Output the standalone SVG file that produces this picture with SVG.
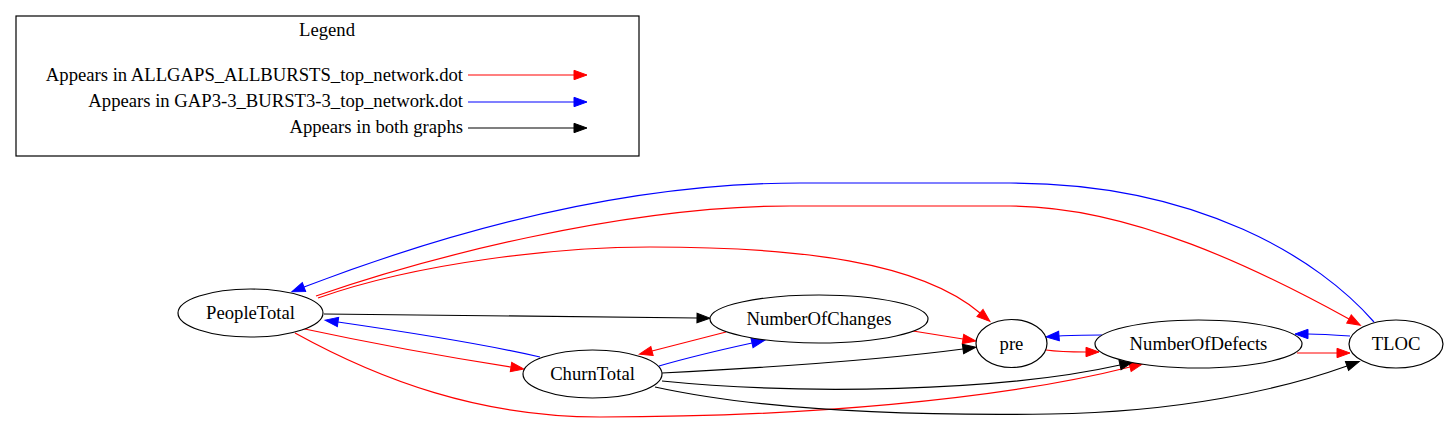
<svg xmlns="http://www.w3.org/2000/svg" width="1448" height="424" viewBox="0 0 1448 424">
<style>
text{font-family:"Liberation Serif","Times New Roman",serif;font-size:18.67px;fill:#000}
.node ellipse{fill:#fff;stroke:#000;stroke-width:1.2}
.e{fill:none;stroke-width:1.2}
.r{stroke:#f00;marker-end:url(#ar)}
.b{stroke:#00f;marker-end:url(#ab)}
.k{stroke:#000;marker-end:url(#ak)}
</style>
<defs>
<marker id="ar" markerUnits="userSpaceOnUse" orient="auto" refX="0" refY="0" markerWidth="16" markerHeight="12" viewBox="0 -6 16 12" overflow="visible"><path d="M0,-4.7 L13,0 L0,4.7 z" fill="#f00" stroke="#f00"/></marker>
<marker id="ab" markerUnits="userSpaceOnUse" orient="auto" refX="0" refY="0" markerWidth="16" markerHeight="12" viewBox="0 -6 16 12" overflow="visible"><path d="M0,-4.7 L13,0 L0,4.7 z" fill="#00f" stroke="#00f"/></marker>
<marker id="ak" markerUnits="userSpaceOnUse" orient="auto" refX="0" refY="0" markerWidth="16" markerHeight="12" viewBox="0 -6 16 12" overflow="visible"><path d="M0,-4.7 L13,0 L0,4.7 z" fill="#000" stroke="#000"/></marker>
</defs>
<rect width="1448" height="424" fill="#fff"/>
<g id="legend">
<rect x="16" y="16" width="623" height="140" fill="none" stroke="#000" stroke-width="1.2"/>
<text x="327" y="36" text-anchor="middle">Legend</text>
<text x="463" y="81" text-anchor="end">Appears in ALLGAPS_ALLBURSTS_top_network.dot</text>
<text x="463" y="107" text-anchor="end">Appears in GAP3-3_BURST3-3_top_network.dot</text>
<text x="463" y="133" text-anchor="end">Appears in both graphs</text>
<path class="e r" d="M468,75 L574,75"/>
<path class="e b" d="M468,102 L574,102"/>
<path class="e k" d="M468,128 L574,128"/>
</g>
<g id="edges">
<path class="e b" d="M1374,322 C1320,260 1200,183 1010,183 L800,183 C620,183 440,235 304,287"/>
<path class="e r" d="M316,296 C420,260 620,206 790,206 L1010,206 C1130,206 1260,270 1349,319"/>
<path class="e r" d="M318,298 C420,262 560,247 650,247 C800,247 920,262 980,313"/>
<path class="e r" d="M300,328 C370,343 440,356 511,367"/>
<path class="e b" d="M540,357 C480,343 400,331 338,322"/>
<path class="e k" d="M324,314 L697,318"/>
<path class="e r" d="M295,333 C380,380 480,417 600,417 C800,417 1000,400 1130,367"/>
<path class="e r" d="M726,332 L652,351"/>
<path class="e b" d="M659,366 C690,357 720,350 752,343"/>
<path class="e r" d="M913,331 L963,339"/>
<path class="e k" d="M662,373 C760,368 880,360 963,349"/>
<path class="e k" d="M662,381 C800,395 1000,392 1120,365"/>
<path class="e k" d="M655,387 C760,410 900,416 1050,414 C1180,412 1280,390 1347,366"/>
<path class="e r" d="M1046,350 C1060,352 1072,352 1086,352"/>
<path class="e b" d="M1102,335 C1090,335 1072,335 1059,336"/>
<path class="e r" d="M1297,353 L1337,353"/>
<path class="e b" d="M1350,336 C1336,335 1322,334 1308,334"/>
</g>
<g id="node-PeopleTotal" class="node"><ellipse cx="250.5" cy="313" rx="72.5" ry="24"/><text x="250.5" y="319" text-anchor="middle">PeopleTotal</text></g>
<g id="node-ChurnTotal" class="node"><ellipse cx="592.5" cy="374" rx="69.5" ry="24"/><text x="592.5" y="380" text-anchor="middle">ChurnTotal</text></g>
<g id="node-NumberOfChanges" class="node"><ellipse cx="819" cy="319" rx="109" ry="24"/><text x="819" y="325" text-anchor="middle">NumberOfChanges</text></g>
<g id="node-pre" class="node"><ellipse cx="1011.5" cy="343.5" rx="35.5" ry="24"/><text x="1011.5" y="349.5" text-anchor="middle">pre</text></g>
<g id="node-NumberOfDefects" class="node"><ellipse cx="1198.5" cy="344" rx="103.5" ry="24"/><text x="1198.5" y="350" text-anchor="middle">NumberOfDefects</text></g>
<g id="node-TLOC" class="node"><ellipse cx="1396" cy="344" rx="47" ry="24"/><text x="1396" y="350" text-anchor="middle">TLOC</text></g>
</svg>
